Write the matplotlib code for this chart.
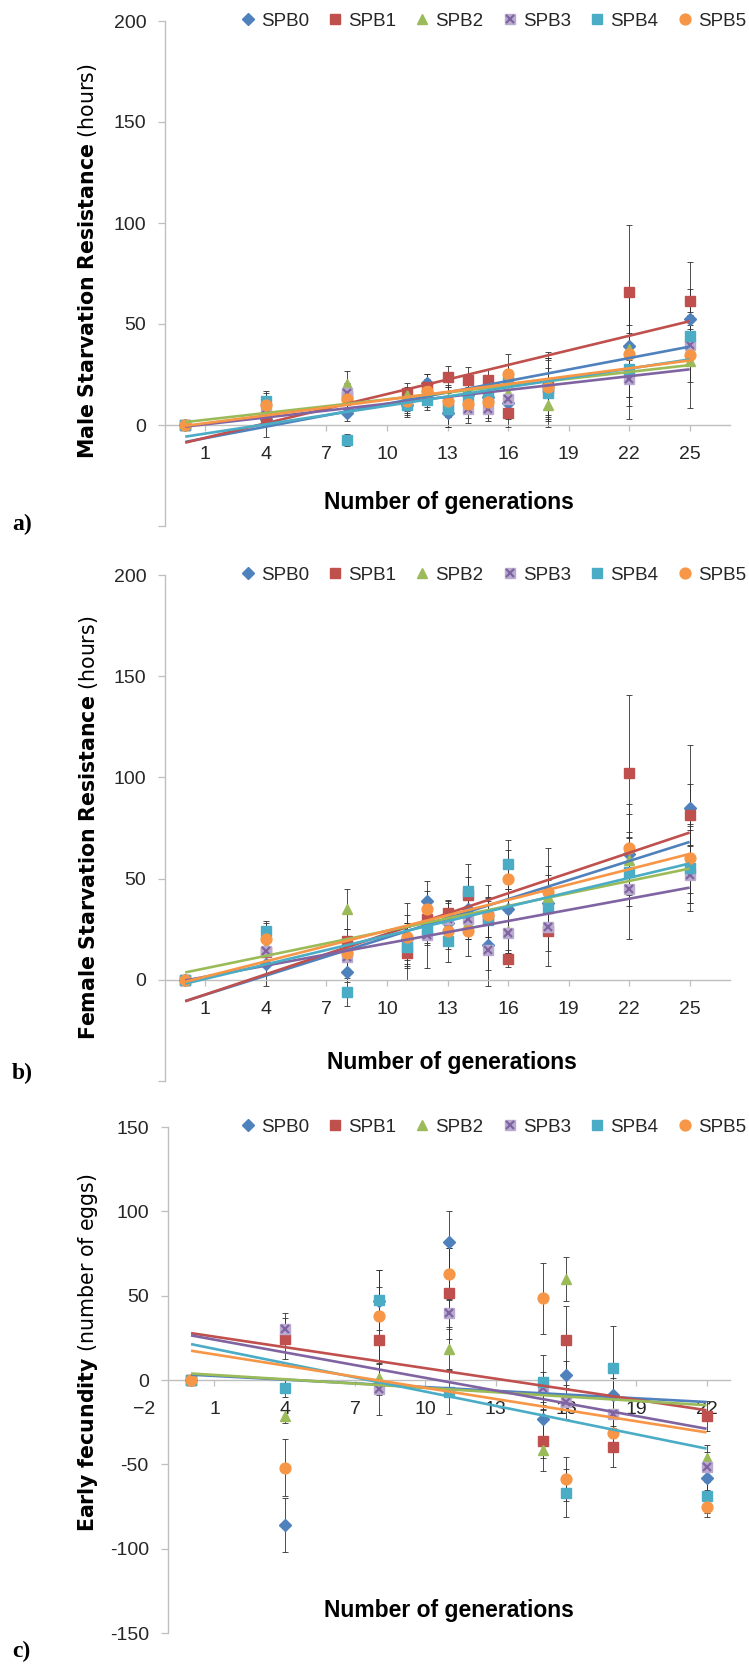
import numpy as np
import matplotlib
matplotlib.use('Agg')
import matplotlib.pyplot as plt
from matplotlib.legend_handler import HandlerTuple

plt.rcParams['font.family'] = ['Liberation Sans', 'DejaVu Sans']
plt.rcParams['mathtext.fontset'] = 'dejavusans'

# ---- data ----
series = ['SPB0', 'SPB1', 'SPB2', 'SPB3', 'SPB4', 'SPB5']
colors = ['#4F81BD', '#C0504D', '#9BBB59', '#8064A2', '#4BACC6', '#F79646']

gens_starv = [0, 4, 8, 11, 12, 13, 14, 15, 16, 18, 22, 25]
gens_fec = [0, 4, 8, 11, 15, 16, 18, 22]

male_means = [
    [0, 3, 6, 10, 21, 6, 15, 14, 11, 20, 39, 52.5],
    [0, 4, 14.5, 16, 19, 24, 22.5, 22.5, 6, 19, 66, 61.5],
    [0, 7, 20.5, 15, 16, 13, 14, 15, 16, 10, 37.5, 31.5],
    [0, 8, 16, 11, 15, 10, 8, 8, 13, 18, 23, 39.5],
    [0, 12, -7.5, 10, 12.5, 8, 14, 14, 22, 16, 27.5, 44],
    [0, 10, 13, 12, 17, 12, 10.5, 11.5, 25, 19, 35, 34.5],
]
male_errs = [
    [0, 9, 4, 5, 4, 7, 6, 5, 8, 12, 25, 15],
    [0, 4, 6, 5, 6, 5, 6, 5, 7, 14, 33, 19],
    [0, 5, 6, 4, 5, 6, 5, 6, 9, 11, 12, 23],
    [0, 5, 5, 5, 6, 6, 7, 6, 8, 15, 9, 10],
    [0, 5, 3, 6, 5, 9, 6, 5, 8, 12, 18, 12],
    [0, 6, 5, 5, 6, 8, 7, 8, 10, 17, 32, 13],
]

female_means = [
    [0, 8, 3.8, 20, 39, 28, 35, 17, 35, 38, 62, 85],
    [0, 13.5, 19, 13, 30, 33, 42, 31, 10.5, 24, 102, 81.5],
    [0, 16, 35, 22, 27, 30, 28, 30, 24, 41, 59, 56],
    [0, 14, 11.5, 18, 22, 30, 30, 14.5, 23, 26, 45, 52],
    [0, 24, -6, 16, 25, 19, 44, 29.5, 57, 35.5, 53.5, 55],
    [0, 20, 13, 21, 35, 24, 24, 32, 50, 43.5, 65, 60],
]
female_errs = [
    [0, 11, 5, 8, 10, 7, 9, 12, 10, 14, 20, 31],
    [0, 6, 6, 13, 8, 6.6, 9, 10, 4, 17.4, 38.5, 15],
    [0, 7, 10, 16, 9, 8, 8, 9, 11, 15, 14, 18],
    [0, 6, 7, 10, 16, 9, 10, 17.5, 10, 12, 25, 14],
    [0, 5, 7, 9, 8, 10, 13, 11, 12, 14, 17, 21],
    [0, 8, 8, 11, 9, 9, 12, 15, 14, 21.5, 22, 17],
]

fec_means = [
    [0, -86, 47, 82, -23, 3, -9, -58],
    [0, 24.5, 24, 51.5, -36, 24, -39.5, -21.5],
    [0, -21.5, 1, 18.5, -41.5, 60, -19.5, -46.5],
    [0, 30.5, -5.5, 39.5, -5, -13, -20, -51.5],
    [0, -5, 47.5, -7, -1, -67, 7, -69],
    [0, -52, 38, 63, 48.5, -58.5, -31.5, -75.5],
]
fec_errs = [
    [0, 16, 8, 18, 10, 8, 10, 7],
    [0, 12, 14, 27, 18, 20, 12, 9],
    [0, 4, 10, 12, 5, 13, 9, 8],
    [0, 9, 15, 8, 10, 10, 10, 9],
    [0, 5, 18, 13, 16, 14, 25, 10],
    [0, 17, 27, 15, 21, 13, 9, 6],
]

W, H = 749, 1667
fig = plt.figure(figsize=(W / 100, H / 100), dpi=100)
AXIS_GRAY = '#BFBFBF'
TXT = '#262626'


def draw_markers(ax, x, y, i):
    c = colors[i]
    if i == 0:
        h, = ax.plot(x, y, 'D', ms=5.8, color=c, mec=c, ls='none', zorder=3)
    elif i == 1 or i == 4:
        h, = ax.plot(x, y, 's', ms=7.2, color=c, mec=c, ls='none', zorder=3)
    elif i == 2:
        h, = ax.plot(x, y, '^', ms=7.8, color=c, mec=c, ls='none', zorder=3)
    elif i == 3:
        h1, = ax.plot(x, y, 's', ms=7.2, color='#b9abd0', mec='#b9abd0', ls='none', zorder=3)
        h2, = ax.plot(x, y, 'x', ms=6.2, mew=1.6, color=c, ls='none', zorder=3)
        h = (h1, h2)
    else:
        h, = ax.plot(x, y, 'o', ms=7.8, color=c, mec=c, ls='none', zorder=3)
    return h


def panel(rect_px, gens, means, errs, xlim, ylim, yticks, xticks, ylab, lab_xy, xlab_xy, hide_first_x=False):
    l, r, t, b = rect_px
    ax = fig.add_axes([l / W, 1 - b / H, (r - l) / W, (b - t) / H])
    x = np.array(gens, dtype=float)
    handles = []
    for i in range(len(series)):
        y = np.array(means[i], dtype=float)
        e = np.array(errs[i], dtype=float)
        m = e > 0
        ax.errorbar(x[m], y[m], yerr=e[m], fmt='none', ecolor='#303030',
                    elinewidth=0.6, capsize=2.2, capthick=0.6, zorder=2)
        handles.append(draw_markers(ax, x, y, i))
    for i in range(len(series)):
        y = np.array(means[i], dtype=float)
        coef = np.polyfit(x, y, 1)
        xs = np.array([x.min(), x.max()])
        ax.plot(xs, np.polyval(coef, xs), color=colors[i], lw=1.9, zorder=4,
                solid_capstyle='butt')

    ax.set_xlim(*xlim)
    ax.set_ylim(*ylim)
    for s in ['top', 'right']:
        ax.spines[s].set_visible(False)
    ax.spines['left'].set_position(('data', -1))
    ax.spines['bottom'].set_position(('data', 0))
    ax.spines['bottom'].set_bounds(-1, xlim[1])
    for s in ['left', 'bottom']:
        ax.spines[s].set_color(AXIS_GRAY)
        ax.spines[s].set_linewidth(1.0)
    ax.set_xticks(xticks)
    ax.set_yticks(yticks)
    ax.set_yticklabels(['' if (v == -50 and ylim[0] == -50) else str(v) for v in yticks])
    ax.tick_params(axis='y', direction='out', length=5, width=0.9, color=AXIS_GRAY,
                   labelsize=14, labelcolor=TXT, pad=8.5)
    ax.tick_params(axis='x', direction='out', length=4, width=0.9, color=AXIS_GRAY,
                   labelsize=14, labelcolor=TXT, pad=11)
    if hide_first_x:
        ax.xaxis.get_major_ticks()[0].tick1line.set_visible(False)

    ax.set_ylabel(ylab, fontsize=14.8, family='DejaVu Sans', color='black')
    ax.yaxis.label.set_va('center')
    ax.yaxis.set_label_coords((lab_xy[0] - l) / (r - l), (b - lab_xy[1]) / (b - t))
    ax.set_xlabel('Number of generations', fontsize=16.5, fontweight='bold', color='black')
    ax.xaxis.label.set_va('center')
    ax.xaxis.set_label_coords((xlab_xy[0] - l) / (r - l), (b - xlab_xy[1]) / (b - t))

    ax.legend(handles, series, loc='center left', bbox_to_anchor=(240 / W, 1 - t / H),
              bbox_transform=fig.transFigure, ncol=6, frameon=False,
              handlelength=0.8, handletextpad=0.3, columnspacing=1.0,
              borderpad=0, borderaxespad=0, fontsize=13.5, labelcolor=TXT,
              handler_map={tuple: HandlerTuple(ndivide=1)})
    return ax


ticks_ab = [1, 4, 7, 10, 13, 16, 19, 22, 25]
panel((165, 730, 21, 526), gens_starv, male_means, male_errs, (-1, 27), (-50, 200),
      [-50, 0, 50, 100, 150, 200], ticks_ab,
      r'$\mathbf{Male\ Starvation\ Resistance}$ (hours)', (88, 261), (449, 503))
panel((165, 730, 575, 1081), gens_starv, female_means, female_errs, (-1, 27), (-50, 200),
      [-50, 0, 50, 100, 150, 200], ticks_ab,
      r'$\mathbf{Female\ Starvation\ Resistance}$ (hours)', (89, 828), (452, 1062))
panel((143, 730, 1127, 1633), gens_fec, fec_means, fec_errs, (-2.05, 23), (-150, 150),
      [-150, -100, -50, 0, 50, 100, 150], [-2, 1, 4, 7, 10, 13, 16, 19, 22],
      r'$\mathbf{Early\ fecundity}$ (number of eggs)', (88, 1353), (449, 1610),
      hide_first_x=True)

for lab, yy in [('a)', 524), ('b)', 1073), ('c)', 1651)]:
    fig.text(12 / W, 1 - yy / H, lab, family='Liberation Serif', fontweight='bold',
             fontsize=17, ha='left', va='center')

fig.savefig('out.png', dpi=100, facecolor='white')
